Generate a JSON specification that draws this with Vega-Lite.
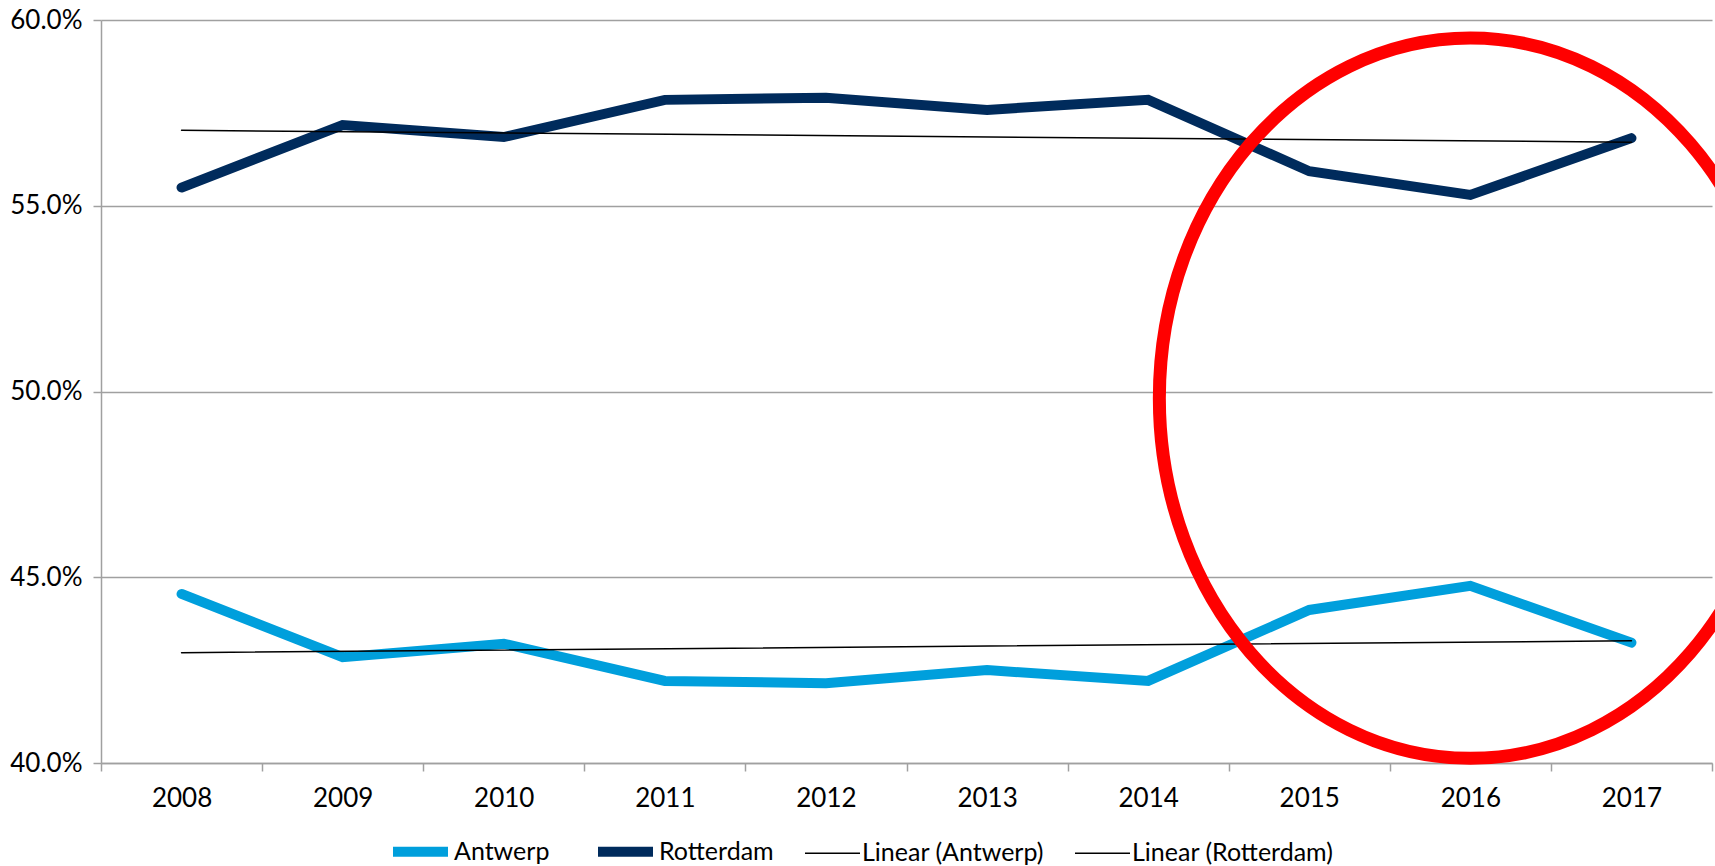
{
  "$schema": "https://vega.github.io/schema/vega-lite/v6.json",
  "width": 1611,
  "height": 743,
  "autosize": {"type": "none"},
  "padding": {"left": 101, "top": 20, "right": 3, "bottom": 103},
  "background": "white",
  "config": {
    "view": {"stroke": null},
    "font": "Lato",
    "axis": {"labelFont": "Lato", "labelFontSize": 26, "labelColor": "#000000", "domainColor": "#A0A0A0", "tickColor": "#A0A0A0", "gridColor": "#A0A0A0", "domainWidth": 1.5, "tickWidth": 1.5, "gridWidth": 1.5, "tickSize": 8, "title": null}
  },
  "datasets": {
    "series": [
      {"year": "2008", "series": "Antwerp", "value": 0.4455},
      {"year": "2009", "series": "Antwerp", "value": 0.4285},
      {"year": "2010", "series": "Antwerp", "value": 0.4321},
      {"year": "2011", "series": "Antwerp", "value": 0.4221},
      {"year": "2012", "series": "Antwerp", "value": 0.4215},
      {"year": "2013", "series": "Antwerp", "value": 0.4250},
      {"year": "2014", "series": "Antwerp", "value": 0.4221},
      {"year": "2015", "series": "Antwerp", "value": 0.4412},
      {"year": "2016", "series": "Antwerp", "value": 0.4477},
      {"year": "2017", "series": "Antwerp", "value": 0.4324},
      {"year": "2008", "series": "Rotterdam", "value": 0.5549},
      {"year": "2009", "series": "Rotterdam", "value": 0.5717},
      {"year": "2010", "series": "Rotterdam", "value": 0.5685},
      {"year": "2011", "series": "Rotterdam", "value": 0.5785},
      {"year": "2012", "series": "Rotterdam", "value": 0.5791},
      {"year": "2013", "series": "Rotterdam", "value": 0.5758},
      {"year": "2014", "series": "Rotterdam", "value": 0.5785},
      {"year": "2015", "series": "Rotterdam", "value": 0.5593},
      {"year": "2016", "series": "Rotterdam", "value": 0.5529},
      {"year": "2017", "series": "Rotterdam", "value": 0.5682},
      {"year": "2008", "series": "Linear (Antwerp)", "value": 0.4297},
      {"year": "2017", "series": "Linear (Antwerp)", "value": 0.4329},
      {"year": "2008", "series": "Linear (Rotterdam)", "value": 0.5703},
      {"year": "2017", "series": "Linear (Rotterdam)", "value": 0.5671}
    ],
    "note": [
      {"year": "2016", "value": 0.4982}
    ]
  },
  "layer": [
    {
      "data": {"name": "series"},
      "mark": {"type": "line", "strokeCap": "round", "strokeJoin": "miter"},
      "encoding": {
        "x": {
          "field": "year", "type": "ordinal",
          "scale": {"type": "band", "paddingInner": 0, "paddingOuter": 0, "domain": ["2008","2009","2010","2011","2012","2013","2014","2015","2016","2017"]},
          "axis": {"labelAngle": 0, "tickBand": "extent", "grid": false, "labelPadding": 14}
        },
        "y": {
          "field": "value", "type": "quantitative",
          "scale": {"domain": [0.4, 0.6], "nice": false, "zero": false},
          "axis": {"format": ".1%", "values": [0.4, 0.45, 0.5, 0.55, 0.6], "grid": true, "labelPadding": 11}
        },
        "color": {
          "field": "series", "type": "nominal",
          "scale": {"domain": ["Antwerp", "Rotterdam", "Linear (Antwerp)", "Linear (Rotterdam)"], "range": ["#009FDC", "#002B5C", "#000000", "#000000"]},
          "legend": {"title": null, "orient": "none", "legendX": 287, "legendY": 799, "direction": "horizontal", "symbolType": "stroke", "symbolSize": 3025, "labelFont": "Lato", "labelFontSize": 25, "labelColor": "#000000", "labelOffset": 1, "labelLimit": 500, "columnPadding": 28}
        },
        "strokeWidth": {
          "field": "series", "type": "nominal",
          "scale": {"type": "ordinal", "domain": ["Antwerp", "Rotterdam", "Linear (Antwerp)", "Linear (Rotterdam)"], "range": [10, 10, 1.5, 1.5]},
          "legend": {"title": null, "orient": "none", "legendX": 287, "legendY": 799, "direction": "horizontal", "symbolType": "stroke", "symbolSize": 3025, "labelFont": "Lato", "labelFontSize": 25, "labelColor": "#000000", "labelOffset": 1, "labelLimit": 500, "columnPadding": 28}
        }
      }
    },
    {
      "data": {"name": "note"},
      "mark": {
        "type": "point",
        "shape": "M 1,0 C 1,0.639 0.552,1.158 0,1.158 C -0.552,1.158 -1,0.639 -1,0 C -1,-0.639 -0.552,-1.158 0,-1.158 C 0.552,-1.158 1,-0.639 1,0 Z",
        "filled": false,
        "stroke": "#FF0000",
        "strokeWidth": 13,
        "opacity": 1,
        "size": 386884
      },
      "encoding": {
        "x": {"field": "year", "type": "ordinal"},
        "y": {"field": "value", "type": "quantitative"}
      }
    }
  ]
}
